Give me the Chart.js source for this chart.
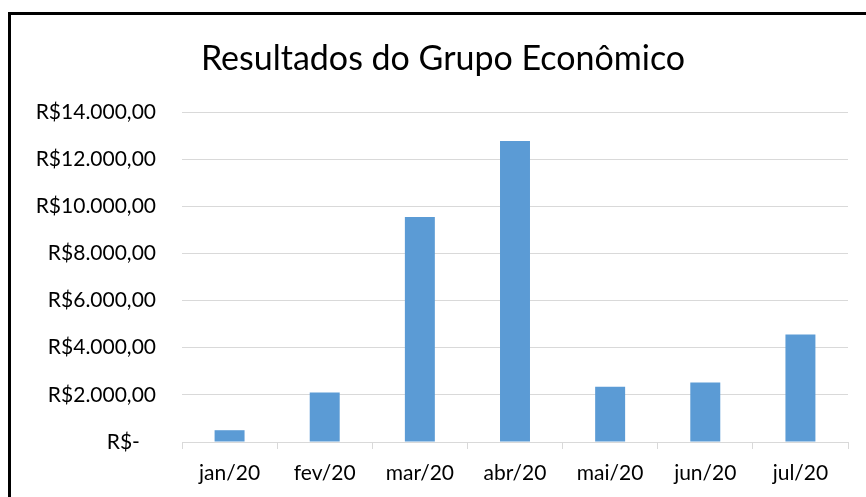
<!DOCTYPE html>
<html>
<head>
<meta charset="utf-8">
<script src="https://cdn.jsdelivr.net/npm/chart.js@4/dist/chart.umd.min.js"></script>
<style>
  html, body { margin: 0; padding: 0; background: #fff; overflow: hidden; width: 866px; height: 497px; }
  #frame { position: absolute; left: 8px; top: 12px; border-top: 3px solid #000; border-left: 3px solid #000; width: 900px; height: 520px; }
  #c { position: absolute; left: 0; top: 0; }
</style>
</head>
<body>
<div id="frame"><canvas id="c" width="864" height="482"></canvas></div>
<script>
const categories = ["jan/20", "fev/20", "mar/20", "abr/20", "mai/20", "jun/20", "jul/20"];
const resultados = [500, 2100, 9550, 12770, 2340, 2520, 4560];
const yTickLabels = ["R$-   ", "R$2.000,00", "R$4.000,00", "R$6.000,00", "R$8.000,00", "R$10.000,00", "R$12.000,00", "R$14.000,00"];
const chartTitle = "Resultados do Grupo Econômico";

const FONT = "Lato";

// Center the title over the full chart frame (not just the padded layout box).
const titleSpanPlugin = {
  id: "titleSpan",
  afterLayout(chart) {
    if (chart.titleBlock) {
      chart.titleBlock.left = 0;
      chart.titleBlock.right = chart.width;
    }
  }
};

new Chart(document.getElementById("c"), {
  type: "bar",
  data: {
    labels: categories,
    datasets: [{
      label: "Resultados",
      data: resultados,
      backgroundColor: "#5B9BD5",
      borderWidth: 0,
      barPercentage: 0.315,
      categoryPercentage: 1.0
    }]
  },
  plugins: [titleSpanPlugin],
  options: {
    responsive: false,
    animation: false,
    devicePixelRatio: 1,
    layout: { padding: { left: 0, right: 27, top: 0, bottom: 0 } },
    plugins: {
      legend: { display: false },
      tooltip: { enabled: false },
      title: {
        display: true,
        text: chartTitle,
        color: "#000",
        font: { family: FONT, size: 34, weight: "normal" },
        padding: { top: 23.6, bottom: 32.6 }
      }
    },
    scales: {
      x: {
        grid: { display: true, drawOnChartArea: false, drawTicks: true, tickLength: 7, color: "#d9d9d9", offset: true },
        border: { display: true, color: "#d9d9d9", width: 1 },
        ticks: { color: "#000", font: { family: FONT, size: 21 }, padding: 12, maxRotation: 0 },
        afterFit: (s) => { s.height = 55; }
      },
      y: {
        min: 0, max: 14000,
        grid: { color: "#d9d9d9", drawTicks: false, lineWidth: 1 },
        border: { display: false },
        ticks: {
          stepSize: 2000,
          color: "#000",
          font: { family: FONT, size: 21 },
          padding: 26,
          callback: (v, i) => yTickLabels[i]
        },
        afterFit: (s) => { s.width = 171; }
      }
    }
  }
});
</script>
</body>
</html>
